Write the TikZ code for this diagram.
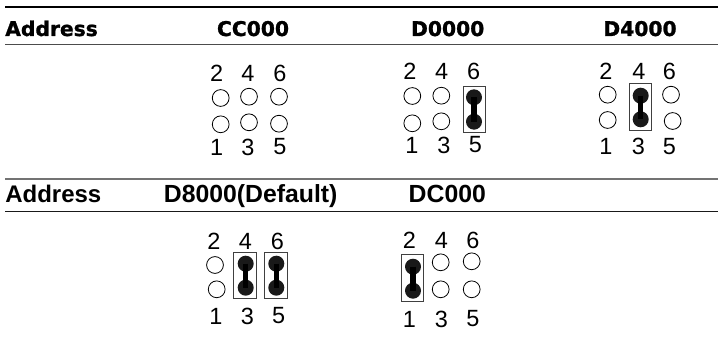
\documentclass[tikz,border=0pt]{standalone}
\usepackage{fontspec}
\setmainfont{Liberation Sans}
\newfontfamily\headfont[BoldFeatures={FakeBold=1.2}]{DejaVu Sans}
\tikzset{
  x=0.75pt,y=-0.75pt,
  pin/.style={circle,draw=black,line width=0.6pt,fill=white,minimum size=12.6pt,inner sep=0pt},
  shorted/.style={circle,fill=black!90,minimum size=12pt,inner sep=0pt},
  linkbar/.style={line width=3.8pt,black},
  jumperbox/.style={draw=black!75,line width=0.7pt,fill=white},
  digit/.style={inner sep=0pt,font=\fontsize{17.6pt}{19pt}\selectfont},
  headA/.style={inner sep=0pt,anchor=base,font=\headfont\bfseries\fontsize{15.2pt}{18pt}\selectfont},
  headB/.style={inner sep=0pt,anchor=base,font=\bfseries\fontsize{18.6pt}{20pt}\selectfont},
  rulethick/.style={line width=1.7pt},
  rulethin/.style={line width=0.8pt}
}
\newcommand{\pinat}[3]{\node[pin] (#1) at (#2,#3) {};}
\newcommand{\jumper}[7]{% name, box x0,x1,y0,y1, dot x, top dot y
  \node[jumperbox,inner sep=0pt,minimum width={(#3-#2)*0.75pt},minimum height={(#5-#4)*0.75pt}] (#1box) at ({(#2+#3)/2},{(#4+#5)/2}) {};
  \node[shorted] (#1a) at (#6,#7) {};
}
\newcommand{\jumperend}[3]{%
  \node[shorted] (#1b) at (#2,#3) {};
  \draw[linkbar] (#1a.center) -- (#1b.center);
}
\newcommand{\digits}[8]{% prefix, x2,x4,x6, top y, x1,x3, bottom y
  \node[digit] (#1t2) at (#2,#5) {2};
  \node[digit] (#1t4) at (#3,#5) {4};
  \node[digit] (#1t6) at (#4,#5) {6};
  \node[digit] (#1t1) at (#6,#8) {1};
  \node[digit] (#1t3) at (#7,#8) {3};
}
\begin{document}
\begin{tikzpicture}
\useasboundingbox (0,0) rectangle (718,339);
\fill[white] (0,0) rectangle (718,339);
% rules
\coordinate (r1a) at (5,7); \coordinate (r1b) at (718,7);
\coordinate (r2a) at (5,44.5); \coordinate (r2b) at (718,44.5);
\coordinate (r3a) at (5,179); \coordinate (r3b) at (718,179);
\coordinate (r4a) at (5,211.5); \coordinate (r4b) at (718,211.5);
\draw[rulethick,black] (r1a) -- (r1b);
\draw[rulethin,black!70] (r2a) -- (r2b);
\draw[rulethick,black!55] (r3a) -- (r3b);
\draw[rulethin,black!90] (r4a) -- (r4b);
% headers
\node[headA,anchor=base west] (h1) at (5,36) {Address};
\node[headA] (h2) at (253,36) {CC000};
\node[headA] (h3) at (447.7,36) {D0000};
\node[headA] (h4) at (640,36) {D4000};
\node[headB,anchor=base west,font=\bfseries\fontsize{18pt}{20pt}\selectfont] (h5) at (5,202) {Address};
\node[headB] (h6) at (250.7,202) {D8000(Default)};
\node[headB] (h7) at (447.3,202) {DC000};
% CC000
\digits{a}{216.7}{248}{280}{73}{216.7}{248}{147}
\node[digit] (at5) at (280,147) {5};
\pinat{ap2}{220.7}{98} \pinat{ap4}{249}{96.7} \pinat{ap6}{279}{96.7}
\pinat{ap1}{220.7}{124.3} \pinat{ap3}{249}{122.3} \pinat{ap5}{279}{123.7}
% D0000
\digits{b}{410}{441.7}{473.7}{71}{412}{444}{145}
\node[digit] (bt5) at (475.3,145) {5};
\pinat{bp2}{412.3}{96} \pinat{bp4}{441.3}{95.7}
\pinat{bp1}{412.3}{123.3} \pinat{bp3}{441.3}{121.3}
\jumper{bj}{463}{485.3}{86}{132.3}{474}{97.3}
\jumperend{bj}{474}{121.7}
% D4000
\digits{c}{606}{639}{669.3}{71}{606}{638.3}{146.7}
\node[digit] (ct5) at (669.3,146.7) {5};
\pinat{cp2}{607.7}{94.7} \pinat{cp6}{671}{94.7}
\pinat{cp1}{607.7}{120} \pinat{cp5}{672.7}{121}
\jumper{cj}{629}{651.3}{83.3}{130}{640.7}{95.7}
\jumperend{cj}{640.7}{119.3}
% D8000
\digits{d}{214}{245.3}{277.3}{241}{216}{247.3}{316}
\node[digit] (dt5) at (278.7,316) {5};
\pinat{dp2}{215}{265} \pinat{dp1}{216.7}{289.3}
\jumper{dj}{233.7}{256}{252}{298.3}{245.7}{263.7}
\jumperend{dj}{245.7}{287.7}
\jumper{dk}{264.7}{287.3}{252}{298.3}{276.3}{263.7}
\jumperend{dk}{276.3}{287.7}
% DC000
\digits{e}{409.3}{441.3}{473}{240.3}{409.3}{441.3}{319}
\node[digit] (et5) at (473,319) {5};
\pinat{ep4}{440.7}{262.3} \pinat{ep6}{471.7}{261.3}
\pinat{ep3}{440.7}{289.3} \pinat{ep5}{471.7}{289.3}
\jumper{ej}{401.3}{423.3}{254.7}{301}{413}{266.7}
\jumperend{ej}{413}{290.7}
\end{tikzpicture}
\end{document}
